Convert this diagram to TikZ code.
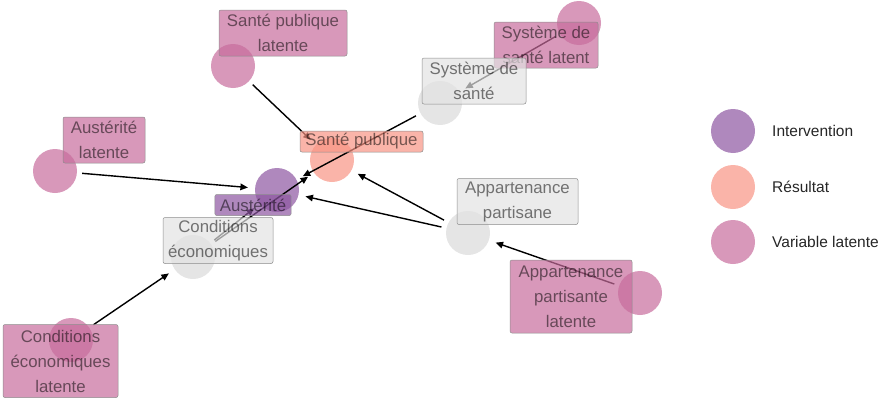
\documentclass[tikz,border=0pt]{standalone}
\usepackage{fontspec}
\setmainfont{Liberation Sans}
\usetikzlibrary{arrows.meta}

\definecolor{interv}{RGB}{141,86,161}
\definecolor{result}{RGB}{248,148,132}
\definecolor{latent}{RGB}{199,108,156}
\definecolor{observed}{RGB}{218,218,218}
\definecolor{obsbox}{RGB}{226,226,226}

\tikzset{
  dot/.style={circle, minimum size=44pt, inner sep=0pt, fill opacity=0.7},
  edge/.style={line width=1.4pt, black, -{Triangle[length=7.5pt,width=6.5pt]},
               shorten <=5pt, shorten >=7pt},
  lab/.style={draw=black!45, line width=0.5pt, rounded corners=2pt,
              fill opacity=0.7, text opacity=0.52, text=black,
              inner xsep=5pt, inner ysep=1pt, align=center,
              font=\fontsize{16.8}{25}\selectfont},
  one/.style={minimum height=21pt},
  two/.style={minimum height=46pt},
  three/.style={minimum height=73pt},
  legtext/.style={anchor=west, inner sep=0pt, text=black!85,
                  font=\fontsize{15.5}{18}\selectfont}
}

\begin{document}
\begin{tikzpicture}[x=1pt, y=-1pt]
\useasboundingbox (0,0) rectangle (884,399);

% variable nodes
\node[dot, fill=latent]   (spl) at (233,66)  {};
\node[dot, fill=latent]   (ssl) at (579,23)  {};
\node[dot, fill=observed] (ss)  at (440,103) {};
\node[dot, fill=latent]   (al)  at (55,171)  {};
\node[dot, fill=result]   (sp)  at (332,160) {};
\node[dot, fill=interv]   (au)  at (277,190) {};
\node[dot, fill=observed] (ce)  at (193,257) {};
\node[dot, fill=observed] (ap)  at (468,233) {};
\node[dot, fill=latent]   (apl) at (640,293) {};
\node[dot, fill=latent]   (cel) at (71,340)  {};

% causal edges
\draw[edge] (spl) -- (sp);
\draw[edge] (ssl) -- (ss);
\draw[edge] (ss)  -- (au);
\draw[edge] (al)  -- (au);
\draw[edge] (ce)  -- (au);
\draw[edge] (ce)  -- (sp);
\draw[edge] (ap)  -- (sp);
\draw[edge] (ap)  -- (au);
\draw[edge] (apl) -- (ap);
\draw[edge] (cel) -- (ce);

% labels
\node[lab, two, fill=latent, minimum width=128pt]   (l-spl) at (283,33)    {Santé publique\\latente};
\node[lab, two, fill=latent, minimum width=104pt]   (l-ssl) at (546,45)    {Système de\\santé latent};
\node[lab, two, fill=obsbox, minimum width=104pt]   (l-ss)  at (474,81)    {Système de\\santé};
\node[lab, two, fill=latent, minimum width=82pt]    (l-al)  at (104,140)   {Austérité\\latente};
\node[lab, one, fill=result, minimum width=123pt]   (l-sp)  at (361.5,141.5) {Santé publique};
\node[lab, one, fill=interv, minimum width=76pt]    (l-au)  at (253,205)   {Austérité};
\node[lab, two, fill=obsbox, minimum width=110pt]   (l-ce)  at (218,240.5) {Conditions\\économiques};
\node[lab, two, fill=obsbox, minimum width=121pt]   (l-ap)  at (517.5,201.5) {Appartenance\\partisane};
\node[lab, three, fill=latent, minimum width=122pt] (l-apl) at (571,296.5) {Appartenance\\partisante\\latente};
\node[lab, three, fill=latent, minimum width=115pt] (l-cel) at (60.5,361)  {Conditions\\économiques\\latente};

% legend
\node[dot, fill=interv] (k1) at (733,131) {};
\node[dot, fill=result] (k2) at (733,187) {};
\node[dot, fill=latent] (k3) at (733,242) {};
\node[legtext] (t1) at (772,131) {Intervention};
\node[legtext] (t2) at (772,187) {Résultat};
\node[legtext] (t3) at (772,242) {Variable latente};
\end{tikzpicture}
\end{document}
